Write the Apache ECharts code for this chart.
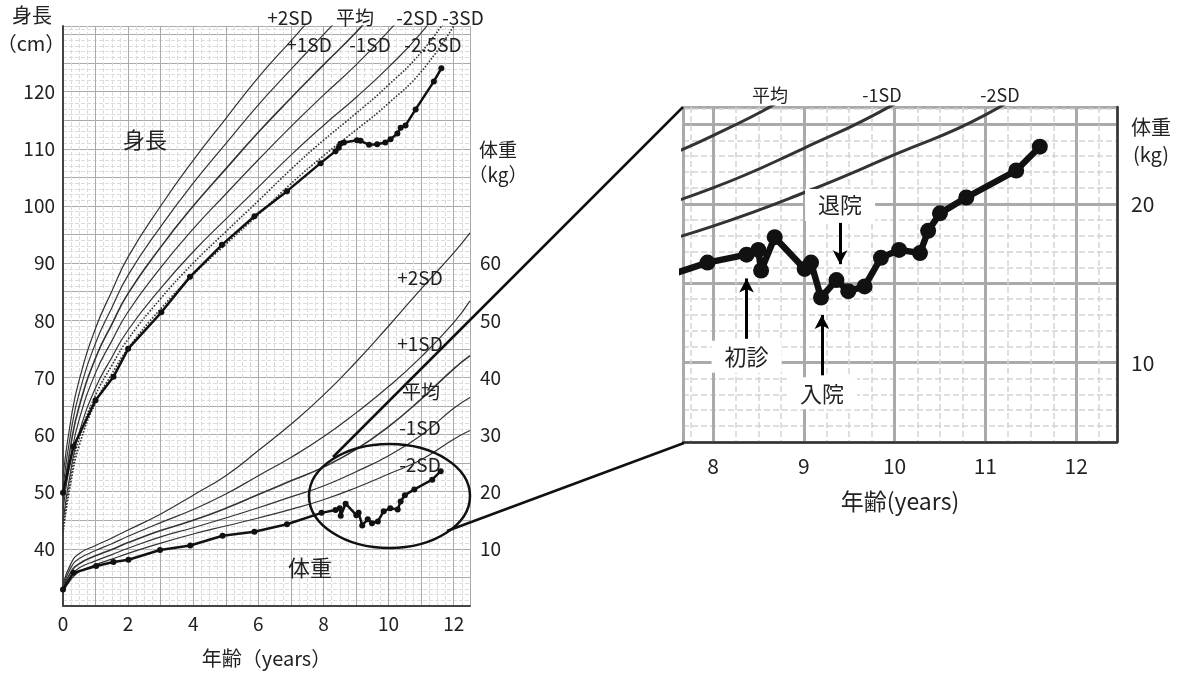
<!DOCTYPE html>
<html>
<head>
<meta charset="utf-8">
<script src="https://cdn.jsdelivr.net/npm/echarts@6/dist/echarts.min.js"></script>
<style>
html, body { margin: 0; padding: 0; background: #fff; }
#chart { width: 1185px; height: 673px; }
</style>
</head>
<body>
<div id="chart"></div>
<script>
// 身長の基準曲線（女子）
const H_AGE = [0, 0.25, 0.5, 1, 1.5, 2, 3, 4, 5, 6, 7, 8, 9, 10, 11, 12];
const H_P2 = [52.8, 62.9, 69.6, 78.6, 85.1, 91.1, 100.0, 108.0, 115.3, 122.5, 128.9, 135.3, 141.8, 149.5, 158.2, 162.5];
const H_P1 = [50.8, 60.7, 67.3, 76.0, 82.2, 87.9, 96.4, 104.0, 110.9, 117.7, 123.9, 130.0, 136.1, 143.2, 150.7, 156.3];
const H_M = [48.8, 58.5, 65.0, 73.4, 79.3, 84.7, 92.8, 100.0, 106.5, 112.9, 118.9, 124.7, 130.4, 136.9, 143.9, 150.1];
const H_M1 = [46.8, 56.3, 62.7, 70.8, 76.4, 81.5, 89.2, 96.0, 102.1, 108.1, 113.9, 119.4, 124.7, 130.6, 137.1, 143.9];
const H_M2 = [44.8, 54.1, 60.4, 68.2, 73.5, 78.3, 85.6, 92.0, 97.7, 103.3, 108.9, 114.1, 119.0, 124.3, 130.3, 137.7];
const H_M25 = [43.8, 53.0, 59.3, 66.9, 72.1, 76.7, 83.8, 90.0, 95.5, 100.9, 106.4, 111.5, 116.2, 121.2, 126.9, 134.6];
const H_M3 = [42.8, 51.9, 58.1, 65.6, 70.6, 75.1, 82.0, 88.0, 93.3, 98.5, 103.9, 108.8, 113.3, 118.0, 123.5, 131.5];

// 体重の基準曲線（女子）
const W_AGE = [0, 0.25, 0.5, 1, 1.5, 2, 3, 4, 5, 6, 7, 8, 9, 10, 11, 12, 12.5];
const W_P2 = [3.8, 7.5, 9.2, 10.6, 11.9, 13.3, 16.1, 19.4, 22.8, 27.2, 31.8, 36.9, 42.7, 49.0, 55.5, 61.8, 65.3];
const W_P1 = [3.4, 6.8, 8.3, 9.7, 10.9, 12.2, 14.6, 16.9, 19.6, 22.8, 26.0, 29.6, 33.8, 38.4, 43.6, 49.6, 53.4];
const W_M = [3.0, 6.0, 7.4, 8.8, 9.9, 11.1, 13.2, 15.0, 17.1, 19.5, 21.9, 24.3, 27.4, 31.4, 36.2, 41.5, 43.8];
const W_M1 = [2.7, 5.3, 6.7, 7.9, 9.0, 10.1, 12.1, 13.7, 15.4, 17.2, 19.1, 21.0, 23.5, 26.3, 29.9, 34.6, 36.5];
const W_M2 = [2.4, 4.7, 6.0, 7.2, 8.2, 9.2, 11.0, 12.6, 14.0, 15.4, 16.9, 18.6, 20.7, 23.1, 25.6, 29.2, 30.7];

// 患者の実測値
const PH_AGE = [0, 0.32, 1.0, 1.55, 2.0, 3.02, 3.9, 4.88, 5.88, 6.88, 7.91, 8.37, 8.47, 8.52, 8.63, 9.03, 9.14, 9.4, 9.65, 9.9, 10.06, 10.27, 10.37, 10.52, 10.83, 11.39, 11.62];
const PH = [49.8, 57.9, 66.0, 70.1, 75.0, 81.4, 87.6, 93.2, 98.2, 102.6, 107.5, 109.6, 110.2, 110.9, 111.1, 111.5, 111.4, 110.7, 110.8, 111.1, 111.7, 112.7, 113.7, 114.1, 116.9, 121.8, 124.1];
const PW_AGE = [0, 0.32, 1.02, 1.55, 2.01, 2.98, 3.91, 4.9, 5.88, 6.88, 7.94, 8.37, 8.50, 8.53, 8.68, 9.01, 9.08, 9.19, 9.36, 9.49, 9.67, 9.85, 10.05, 10.28, 10.37, 10.50, 10.79, 11.34, 11.60];
const PW = [2.9, 5.8, 7.0, 7.7, 8.1, 9.8, 10.6, 12.3, 13.0, 14.3, 16.3, 16.8, 17.1, 15.8, 17.9, 15.9, 16.3, 14.1, 15.2, 14.5, 14.8, 16.6, 17.1, 16.9, 18.3, 19.4, 20.4, 22.1, 23.6];

// 矢印（初診・入院・退院）
const EVENTS = ['初診', '入院', '退院'];
const EVENT_AGE = [8.37, 9.20, 9.40];
const EVENT_FROM = [11.5, 9.2, 18.8];
const EVENT_TO = [15.3, 13.0, 16.2];

const FONT = "'Noto Sans CJK JP', sans-serif";
const zip = (xs, ys) => xs.map((x, i) => [x, ys[i]]);

function curve(ages, vals, idx, width, type) {
    return {
        type: 'line',
        xAxisIndex: idx, yAxisIndex: idx,
        data: zip(ages, vals),
        smooth: 0.5,
        symbol: 'none', silent: true,
        lineStyle: { color: '#333', width: width, type: type || 'solid' }
    };
}

function patient(ages, vals, idx, width, size) {
    return {
        type: 'line',
        xAxisIndex: idx, yAxisIndex: idx,
        data: zip(ages, vals),
        symbol: 'circle', symbolSize: size,
        itemStyle: { color: '#111' },
        lineStyle: { color: '#111', width: width },
        z: 5
    };
}

function txt(x, y, text, size) {
    return {
        type: 'text', x: x, y: y, silent: true, z: 20,
        style: {
            text: text, fill: '#222', font: size + 'px ' + FONT,
            textAlign: 'center', textVerticalAlign: 'middle'
        }
    };
}

const chart = echarts.init(document.getElementById('chart'));

const series = [
    // 身長
    curve(H_AGE, H_P2, 0, 1.2),
    curve(H_AGE, H_P1, 0, 1.2),
    curve(H_AGE, H_M, 0, 1.6),
    curve(H_AGE, H_M1, 0, 1.2),
    curve(H_AGE, H_M2, 0, 1.2),
    curve(H_AGE, H_M25, 0, 1.6, 'dotted'),
    curve(H_AGE, H_M3, 0, 1.6, 'dotted'),
    patient(PH_AGE, PH, 0, 2.5, 6),
    // 体重
    curve(W_AGE, W_P2, 1, 1.2),
    curve(W_AGE, W_P1, 1, 1.2),
    curve(W_AGE, W_M, 1, 1.6),
    curve(W_AGE, W_M1, 1, 1.2),
    curve(W_AGE, W_M2, 1, 1.2),
    patient(PW_AGE, PW, 1, 2.5, 6),
    // 拡大図
    curve(W_AGE, W_P2, 2, 3),
    curve(W_AGE, W_P1, 2, 3),
    curve(W_AGE, W_M, 2, 3),
    curve(W_AGE, W_M1, 2, 3),
    curve(W_AGE, W_M2, 2, 3)
];
const inset = patient(PW_AGE, PW, 2, 6.5, 16);
inset.markLine = {
    silent: true,
    symbol: ['none', 'arrow'],
    symbolSize: [11, 14],
    lineStyle: { color: '#000', width: 3, type: 'solid' },
    label: {
        show: true, position: 'start', formatter: '{b}',
        fontSize: 22, fontFamily: FONT, color: '#222',
        backgroundColor: '#fff', padding: [5, 13], distance: 2
    },
    data: EVENTS.map((n, i) => [
        { name: n, coord: [EVENT_AGE[i], EVENT_FROM[i]] },
        { coord: [EVENT_AGE[i], EVENT_TO[i]] }
    ])
};
series.push(inset);

const gridMajor = { lineStyle: { color: '#aaa', width: 1 } };
const gridMinor = { show: true, lineStyle: { color: '#dcdcdc', width: 1, type: 'dashed' } };
const axisFont = { fontSize: 19, color: '#222', fontFamily: FONT };

chart.setOption({
    animation: false,
    textStyle: { fontFamily: FONT },
    grid: [
        { left: 63, right: 715, top: 26, bottom: 67 },
        { left: 63, right: 715, top: 182, bottom: 67 },
        { left: 683, right: 68, top: 107, bottom: 231 }
    ],
    xAxis: [
        {
            gridIndex: 0, type: 'value', min: 0, max: 12.5, interval: 1,
            axisLine: { lineStyle: { color: '#444', width: 2 } },
            axisTick: { show: false },
            axisLabel: Object.assign({ margin: 8, formatter: v => (v % 2 === 0 ? v : '') }, axisFont),
            splitLine: gridMajor,
            minorTick: { show: false, splitNumber: 4 },
            minorSplitLine: gridMinor,
            name: '年齢（years）', nameLocation: 'middle', nameGap: 42,
            nameTextStyle: { fontSize: 20, color: '#222', fontFamily: FONT }
        },
        { gridIndex: 1, type: 'value', min: 0, max: 12.5, show: false },
        {
            gridIndex: 2, type: 'value', min: 7.67, max: 12.45,
            axisLine: { lineStyle: { color: '#333', width: 2.5 } },
            axisTick: { show: false },
            axisLabel: { margin: 14, fontSize: 21, color: '#222', fontFamily: FONT,
                formatter: v => (Number.isInteger(v) ? v : '') },
            splitLine: { lineStyle: { color: '#aaa', width: 3 } },
            minorTick: { show: false, splitNumber: 4 },
            minorSplitLine: { show: true, lineStyle: { color: '#d4d4d4', width: 1.5, type: 'dashed' } },
            name: '年齢(years)', nameLocation: 'middle', nameGap: 48,
            nameTextStyle: { fontSize: 23, color: '#222', fontFamily: FONT }
        }
    ],
    yAxis: [
        {
            gridIndex: 0, type: 'value', min: 30, max: 131.5, interval: 5, position: 'left',
            axisLine: { show: true, lineStyle: { color: '#444', width: 2 } },
            axisTick: { show: false },
            axisLabel: Object.assign({ margin: 8,
                formatter: v => (v % 10 === 0 && v >= 40 && v <= 120 ? v : '') }, axisFont),
            splitLine: gridMajor,
            minorTick: { show: false, splitNumber: 5 },
            minorSplitLine: gridMinor
        },
        {
            gridIndex: 1, type: 'value', min: 0, max: 74.2, interval: 10, position: 'right',
            axisLine: { show: true, lineStyle: { color: '#444', width: 2 } },
            axisTick: { show: false },
            axisLabel: Object.assign({ margin: 10,
                formatter: v => (v % 10 === 0 && v >= 10 && v <= 60 ? v : '') }, axisFont),
            splitLine: { show: false }
        },
        {
            gridIndex: 2, type: 'value', min: 5, max: 26.1, interval: 5, position: 'right',
            axisLine: { show: true, lineStyle: { color: '#333', width: 2.5 } },
            axisTick: { show: false },
            axisLabel: { margin: 14, fontSize: 21, color: '#222', fontFamily: FONT,
                formatter: v => (v === 10 || v === 20 ? v : '') },
            splitLine: { lineStyle: { color: '#aaa', width: 3 } },
            minorTick: { show: false, splitNumber: 5 },
            minorSplitLine: { show: true, lineStyle: { color: '#d4d4d4', width: 1.5, type: 'dashed' } }
        }
    ],
    series: series,
    graphic: [
        // 軸の見出し
        txt(32, 15, '身長', 20),
        txt(31, 43, '（cm）', 20),
        txt(498, 150, '体重', 19),
        txt(498, 175, '（kg）', 19),
        txt(145, 140, '身長', 22),
        txt(310, 568, '体重', 22),
        // 身長の曲線名
        txt(290, 18, '+2SD', 19),
        txt(355, 18, '平均', 19),
        txt(417, 18, '-2SD', 19),
        txt(463, 18, '-3SD', 19),
        txt(309, 45, '+1SD', 19),
        txt(370, 45, '-1SD', 19),
        txt(433, 45, '-2.5SD', 19),
        // 体重の曲線名
        txt(420, 278, '+2SD', 19),
        txt(420, 344, '+1SD', 19),
        txt(421, 392, '平均', 19),
        txt(420, 428, '-1SD', 19),
        txt(420, 465, '-2SD', 19),
        // 拡大図
        txt(770, 95, '平均', 18),
        txt(882, 95, '-1SD', 18),
        txt(1000, 95, '-2SD', 18),
        txt(1151, 127, '体重', 20),
        txt(1151, 154, '(kg)', 20),
        // 楕円と引き出し線
        {
            type: 'ellipse', silent: true, z: 10,
            shape: { cx: 389.5, cy: 496, rx: 80.5, ry: 52 },
            style: { fill: 'none', stroke: '#111', lineWidth: 2.5 }
        },
        {
            type: 'line', silent: true, z: 10,
            shape: { x1: 333, y1: 457, x2: 683, y2: 107 },
            style: { stroke: '#111', lineWidth: 2.5 }
        },
        {
            type: 'line', silent: true, z: 10,
            shape: { x1: 447, y1: 531, x2: 684, y2: 443 },
            style: { stroke: '#111', lineWidth: 2.5 }
        }
    ]
});
</script>
</body>
</html>
